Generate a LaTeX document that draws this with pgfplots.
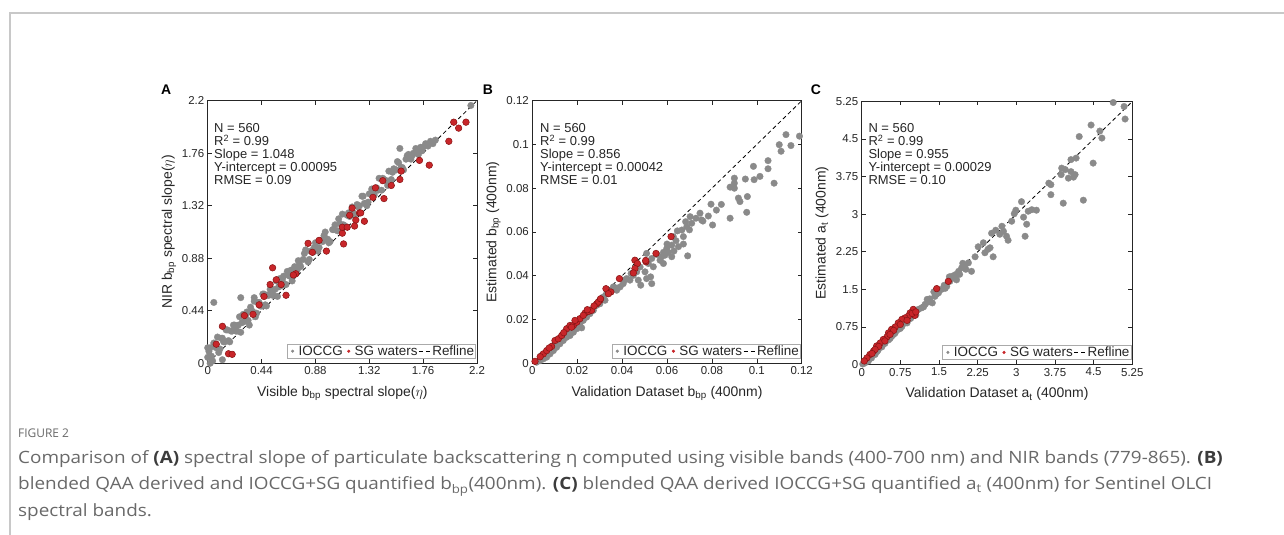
\documentclass[border=0pt]{standalone}
\usepackage{fontspec}
\setmainfont{Liberation Sans}
\newfontfamily\capfont{Open Sans}
\usepackage{pgfplots}
\pgfplotsset{compat=1.18}
\definecolor{gcol}{RGB}{138,138,138}
\definecolor{rcol}{RGB}{200,38,42}
\definecolor{redge}{RGB}{135,20,20}
\definecolor{axcol}{RGB}{38,38,38}
\definecolor{framecol}{RGB}{200,200,200}
\definecolor{captxt}{RGB}{105,105,105}
\definecolor{capbold}{RGB}{60,60,60}
\definecolor{legcol}{RGB}{170,170,170}
\pgfplotsset{
 panel/.style={scale only axis, axis line style={axcol, line width=0.6bp},
  tick style={axcol, line width=0.6bp}, tick align=inside, major tick length=4bp,
  xtick pos=both, ytick pos=both,
  ticklabel style={font=\fontsize{11.5}{12}\selectfont, text=axcol},
  label style={font=\fontsize{14}{15}\selectfont, text=axcol},
  xlabel style={at={(axis description cs:0.5,-0.127)}, anchor=base},
  ylabel style={at={(axis description cs:-0.133,0.5)}, anchor=base},
  legend columns=3, legend cell align=left,
  legend style={at={(0.996,0.018)}, anchor=south east, draw=legcol, line width=0.5bp, fill=white,
    font=\fontsize{13.5}{14}\selectfont, inner sep=0.5bp, nodes={inner sep=1bp, text=axcol},
    /tikz/every odd column/.append style={column sep=1bp}},
 },
 gpts/.style={only marks, mark=*, mark size=3.3bp, mark options={fill=gcol, draw=gcol, line width=0.3bp},
   legend image code/.code={\path[draw=none,fill=none] (0bp,-2bp) rectangle (9bp,2bp); \fill[gcol] (5bp,0bp) circle (1.3bp);}},
 rpts/.style={only marks, mark=*, mark size=3.3bp, mark options={fill=rcol, draw=redge, line width=0.5bp},
   legend image code/.code={\path[draw=none,fill=none] (0bp,-2bp) rectangle (9bp,2bp); \fill[rcol] (5bp,0bp) circle (1.3bp);}},
 refl/.style={black, line width=0.8bp, dash pattern=on 4bp off 3bp,
   legend image code/.code={\draw[black, line width=0.8bp, dash pattern=on 4bp off 3bp] (0bp,0bp) -- (11bp,0bp);}},
}
\begin{document}
\begin{tikzpicture}
\useasboundingbox (0,0) rectangle (1284bp,535bp);
\fill[white] (0,0) rectangle (1284bp,535bp);
\draw[framecol, line width=1.3bp] (10bp,0bp) -- (10bp,522bp) -- (1284bp,522bp);

% ---------------- Panel A
\begin{axis}[panel, at={(207.7bp,171.7bp)}, anchor=south west, width=269.3bp, height=262.6bp,
  xmin=0, xmax=2.2, ymin=0, ymax=2.2,
  xtick={0,0.44,0.88,1.32,1.76,2.2}, xticklabels={0,0.44,0.88,1.32,1.76,2.2},
  ytick={0,0.44,0.88,1.32,1.76,2.2}, yticklabels={0,0.44,0.88,1.32,1.76,2.2},
  xlabel={Visible b\textsubscript{bp} spectral slope($\eta$)},
  ylabel={NIR b\textsubscript{bp} spectral slope($\eta$)}]
\addplot[gpts] coordinates {
(0.00,0.05) (0.02,0.13) (0.04,0.02) (0.06,0.14) (0.08,0.22) (0.10,0.12) (0.12,0.21) (0.14,0.18) (0.16,0.28) (0.18,0.18)
(0.20,0.27) (0.22,0.32) (0.24,0.27) (0.26,0.39) (0.28,0.34) (0.30,0.35) (0.32,0.43) (0.34,0.32) (0.36,0.44) (0.38,0.52)
(0.40,0.42) (0.42,0.51) (0.44,0.48) (0.46,0.58) (0.48,0.48) (0.50,0.57) (0.52,0.62) (0.54,0.57) (0.56,0.69) (0.58,0.64)
(0.60,0.65) (0.62,0.73) (0.64,0.66) (0.66,0.74) (0.68,0.78) (0.70,0.74) (0.72,0.79)
(0.01,0.10) (0.03,0.06) (0.05,0.17) (0.07,0.13) (0.09,0.09) (0.11,0.21) (0.13,0.18) (0.15,0.28) (0.17,0.19) (0.19,0.27)
(0.21,0.32) (0.23,0.27) (0.25,0.32) (0.27,0.26) (0.29,0.41) (0.31,0.40) (0.33,0.36) (0.35,0.47) (0.37,0.43) (0.39,0.39)
(0.41,0.51) (0.43,0.48) (0.45,0.58) (0.47,0.49) (0.49,0.57) (0.51,0.62) (0.53,0.57) (0.55,0.62) (0.57,0.56) (0.59,0.71)
(0.61,0.70) (0.63,0.66) (0.65,0.77) (0.67,0.73) (0.69,0.69) (0.71,0.81) (0.73,0.78)
(0.05,0.51) (0.00,0.13) (0.27,0.55) (0.38,0.55) (0.12,0.03) (0.02,0.00)
(0.74,0.86) (0.76,0.81) (0.78,0.87) (0.80,0.95) (0.82,0.85) (0.84,0.94) (0.86,0.93) (0.88,1.01) (0.90,0.94) (0.92,1.03)
(0.94,1.02) (0.96,1.10) (0.98,1.04) (1.00,1.02) (1.02,1.12) (1.04,1.16) (1.06,1.11) (1.08,1.17) (1.10,1.25) (1.12,1.15)
(1.14,1.24) (1.16,1.23) (1.18,1.31) (1.20,1.24) (1.22,1.33) (1.24,1.32) (1.26,1.40) (1.28,1.34) (1.30,1.32) (1.32,1.42)
(1.34,1.46) (1.36,1.41) (1.38,1.47) (1.40,1.55) (1.42,1.45) (1.44,1.54) (1.46,1.53) (1.48,1.61) (1.50,1.54) (1.52,1.63)
(1.54,1.62) (1.56,1.68) (1.58,1.64) (1.60,1.62) (1.62,1.71) (1.64,1.75) (1.66,1.71) (1.68,1.76) (1.70,1.80) (1.72,1.75)
(1.74,1.81) (1.76,1.81) (1.78,1.84) (1.80,1.82) (1.82,1.86) (1.84,1.84) (1.86,1.87)
(0.75,0.83) (0.79,0.92) (0.83,0.87) (0.87,0.97) (0.91,0.97) (0.95,1.07) (0.99,1.01) (1.03,1.12) (1.07,1.21) (1.11,1.16)
(1.15,1.26) (1.19,1.26) (1.23,1.31) (1.27,1.40) (1.31,1.35) (1.35,1.45) (1.39,1.45) (1.43,1.55) (1.47,1.49) (1.51,1.60)
(1.55,1.69) (1.59,1.64) (1.63,1.74) (1.67,1.74) (1.71,1.79) (1.75,1.78) (1.79,1.83) (1.83,1.85)
(1.57,1.80) (2.15,2.16)
};
\addlegendentry{IOCCG}
\addplot[rpts] coordinates {
(0.07,0.16) (0.12,0.31) (0.17,0.08) (0.20,0.075) (0.30,0.40) (0.37,0.41) (0.42,0.49) (0.46,0.56) (0.53,0.80) (0.51,0.66)
(0.56,0.70) (0.60,0.66) (0.64,0.57) (0.72,0.75) (0.70,0.74) (0.82,1.005) (0.855,0.93) (0.97,0.94) (0.91,1.03) (1.11,1.00)
(1.10,1.09) (1.21,1.20) (1.10,1.14) (1.14,1.14) (1.16,1.24) (1.18,1.30) (1.24,1.26) (1.35,1.39) (1.44,1.38) (1.37,1.47)
(1.43,1.53) (1.50,1.49) (1.57,1.54) (1.58,1.61) (1.73,1.70) (1.81,1.66) (1.97,1.86) (2.01,2.02) (2.05,1.97) (2.11,2.02)
(1.20,1.15) (1.28,1.19) (1.25,1.26)
};
\addlegendentry{SG waters}
\addplot[refl] coordinates {(0,0) (2.2,2.2)};
\addlegendentry{Refline}
\end{axis}

% ---------------- Panel B
\begin{axis}[panel, at={(532.3bp,171.7bp)}, anchor=south west, width=269.4bp, height=262.6bp,
  xmin=0, xmax=0.12, ymin=0, ymax=0.12,
  xtick={0,0.02,0.04,0.06,0.08,0.1,0.12}, xticklabels={0,0.02,0.04,0.06,0.08,0.1,0.12},
  ytick={0,0.02,0.04,0.06,0.08,0.1,0.12}, yticklabels={0,0.02,0.04,0.06,0.08,0.1,0.12},
  xlabel={Validation Dataset b\textsubscript{bp} (400nm)},
  ylabel={Estimated b\textsubscript{bp} (400nm)}]
\addplot[gpts] coordinates {
(0.113,0.1045) (0.119,0.1038) (0.110,0.0999) (0.1108,0.0969) (0.1152,0.0995) (0.105,0.0926) (0.105,0.0889) (0.0985,0.090)
(0.1014,0.0854) (0.0988,0.0839) (0.0949,0.0842) (0.1077,0.0823) (0.090,0.0846) (0.090,0.0823) (0.090,0.080) (0.0881,0.0805)
(0.0918,0.0755) (0.0925,0.0739) (0.0958,0.0762) (0.0955,0.069) (0.0881,0.0663) (0.0842,0.0726) (0.0796,0.0727) (0.0784,0.0673)
(0.0803,0.0632) (0.0747,0.0686) (0.0754,0.0655) (0.0729,0.0663) (0.0703,0.067) (0.071,0.064) (0.0683,0.0647) (0.0666,0.0609)
(0.0688,0.0624) (0.0646,0.0605) (0.0673,0.0579) (0.0628,0.0579) (0.0621,0.054) (0.0673,0.0545) (0.0692,0.0491) (0.0599,0.0525)
(0.0591,0.0494) (0.0621,0.0487) (0.0606,0.0507) (0.0631,0.0513) (0.0651,0.0533) (0.0569,0.0471) (0.0576,0.0487) (0.0584,0.0456)
(0.0509,0.0502) (0.0532,0.0479) (0.0539,0.0441) (0.0517,0.0456) (0.0502,0.0418) (0.0527,0.0395) (0.0532,0.0364) (0.0509,0.0387)
(0.0472,0.038) (0.0483,0.0357) (0.045,0.0402) (0.0465,0.0418) (0.0435,0.038) (0.0405,0.0364) (0.042,0.0387) (0.0391,0.0349)
(0.0376,0.0334) (0.0361,0.0349) (0.0346,0.0326) (0.0331,0.0318) (0.0316,0.0303) (0.0324,0.0288) (0.0301,0.0272) (0.0287,0.0265)
(0.0272,0.0242) (0.0257,0.0227) (0.0242,0.0211) (0.0227,0.0196) (0.0212,0.0181) (0.022,0.0162) (0.0198,0.0158) (0.0183,0.0142)
(0.0168,0.0127) (0.0153,0.0119) (0.0138,0.0104) (0.0123,0.0089) (0.0108,0.0073) (0.0094,0.0058) (0.0079,0.0043) (0.0064,0.0028)
(0.0049,0.002) (0.0034,0.0012) (0.0019,0.0005) (0.0584,0.0507) (0.0555,0.0497) (0.0480,0.0440) (0.0440,0.0410) (0.0410,0.0380)
(0.0370,0.0345) (0.0300,0.0285) (0.0260,0.0240) (0.0230,0.0210) (0.0195,0.0175) (0.0160,0.0140) (0.0130,0.0115) (0.0100,0.0088)
(0.0070,0.0060) (0.0040,0.0035) (0.0600,0.0545) (0.0640,0.0560) (0.0700,0.0610) (0.0760,0.0650) (0.0820,0.0700)
};
\addlegendentry{IOCCG}
\addplot[rpts] coordinates {
(0.0012,0.0009) (0.0049,0.0043) (0.0064,0.0058) (0.0086,0.0077) (0.0101,0.0104) (0.0116,0.0112) (0.0131,0.0127) (0.0153,0.0158)
(0.0168,0.0173) (0.0183,0.0173) (0.0198,0.0188) (0.0212,0.0204) (0.0235,0.023) (0.025,0.0237) (0.0264,0.0242) (0.0227,0.0219)
(0.019,0.0196) (0.0287,0.0272) (0.0301,0.0288) (0.0294,0.028) (0.0304,0.0295) (0.0328,0.0341) (0.0388,0.0387) (0.0457,0.0471)
(0.0468,0.0456) (0.0457,0.0433) (0.045,0.0413) (0.0506,0.0464) (0.0551,0.0502) (0.0618,0.0579) (0.035,0.0326) (0.0339,0.0318)
(0.0035,0.0030) (0.0075,0.0070) (0.0140,0.0140) (0.0175,0.0165) (0.0245,0.0245) (0.0275,0.0262) (0.0505,0.0470)
};
\addlegendentry{SG waters}
\addplot[refl] coordinates {(0,0) (0.12,0.12)};
\addlegendentry{Refline}
\end{axis}

% ---------------- Panel C
\begin{axis}[panel, at={(861.7bp,170.5bp)}, anchor=south west, width=270.6bp, height=263bp,
  xmin=0, xmax=5.25, ymin=0, ymax=5.25,
  xtick={0,0.75,1.5,2.25,3,3.75,4.5,5.25}, xticklabels={0,0.75,1.5,2.25,3,3.75,4.5,5.25},
  ytick={0,0.75,1.5,2.25,3,3.75,4.5,5.25}, yticklabels={0,0.75,1.5,2.25,3,3.75,4.5,5.25},
  xlabel={Validation Dataset a\textsubscript{t} (400nm)},
  ylabel={Estimated a\textsubscript{t} (400nm)}]
\addplot[gpts] coordinates {
(4.88,5.23) (5.09,5.15) (5.11,4.90) (4.45,4.78) (4.66,4.52) (4.22,4.55) (4.49,4.02) (4.06,4.09) (3.88,3.92) (3.87,3.79)
(3.95,3.89) (4.06,3.85) (4.01,3.72) (4.14,3.79) (4.11,3.74) (3.91,3.22) (4.30,3.28) (3.67,3.59) (3.67,3.39) (3.23,3.06)
(3.39,3.08) (3.30,3.09) (2.99,3.08) (2.96,3.01) (3.14,2.94) (3.20,2.80) (3.17,2.56) (2.91,2.86) (2.72,2.76) (2.75,2.66)
(2.81,2.56) (2.84,2.48) (2.52,2.62) (2.49,2.33) (2.39,2.23) (2.36,2.43) (2.26,2.35) (2.13,1.86) (2.07,2.03) (1.94,1.93)
(1.88,1.86) (1.81,1.79) (1.78,1.73) (1.84,1.69) (1.71,1.66) (1.65,1.56) (1.55,1.50) (1.49,1.43) (1.42,1.36) (1.37,1.23)
(1.32,1.31) (1.23,1.20) (1.16,1.13) (1.10,1.10) (1.03,1.03) (0.97,0.96) (0.91,0.90) (0.84,0.83) (0.78,0.76) (0.71,0.70)
(0.65,0.63) (0.58,0.56) (0.52,0.49) (0.45,0.42) (0.39,0.35) (0.32,0.29) (0.26,0.20) (0.19,0.13) (0.13,0.07) (0.06,0.03)
(2.00,1.98) (1.96,2.02) (2.02,1.90) (1.90,1.80) (1.75,1.76) (1.60,1.58) (1.45,1.40) (1.30,1.25) (1.20,1.15) (1.05,0.99)
(0.95,0.92) (0.88,0.83) (0.75,0.72) (0.62,0.60) (0.55,0.52) (0.40,0.38) (0.30,0.26) (0.15,0.12) (0.08,0.06) (0.02,0.01)
(2.60,2.68) (2.68,2.60) (2.55,2.15) (2.45,2.30) (2.20,2.15) (1.70,1.75) (1.62,1.52) (1.40,1.45) (1.27,1.30) (3.10,3.25)
(3.63,3.62) (4.16,4.12) (4.62,4.66)
};
\addlegendentry{IOCCG}
\addplot[rpts] coordinates {
(1.455,1.515) (1.68,1.66) (1.00,1.10) (0.94,1.03) (1.03,0.98) (0.905,0.965) (0.84,0.93) (0.78,0.90) (0.71,0.83) (0.65,0.75)
(0.58,0.70) (0.52,0.63) (0.49,0.55) (0.42,0.50) (0.36,0.43) (0.29,0.37) (0.23,0.27) (0.16,0.20) (0.10,0.13) (0.05,0.07)
(0.98,1.02) (0.88,0.88) (0.75,0.80) (0.62,0.68) (0.55,0.60) (0.45,0.47) (0.33,0.36) (0.26,0.30) (0.20,0.22) (1.05,1.05)
};
\addlegendentry{SG waters}
\addplot[refl] coordinates {(0,0) (5.25,5.25)};
\addlegendentry{Refline}
\end{axis}

% panel letters
\node[anchor=base west, font=\fontsize{14}{14}\selectfont\bfseries, inner sep=0pt] at (161bp,440.7bp) {A};
\node[anchor=base west, font=\fontsize{14}{14}\selectfont\bfseries, inner sep=0pt] at (482.7bp,440.7bp) {B};
\node[anchor=base west, font=\fontsize{14}{14}\selectfont\bfseries, inner sep=0pt] at (810.7bp,440.7bp) {C};

% statistics
\foreach \xx/\sl/\yi/\rm in {214/1.048/0.00095/0.09, 540/0.856/0.00042/0.01, 868.3/0.955/0.00029/0.10}{
  \begin{scope}[every node/.style={anchor=base west, inner sep=0pt, text=axcol, font=\fontsize{13}{13}\selectfont}]
  \node at (\xx bp,402.3bp) {N = 560};
  \node at (\xx bp,389.4bp) {R\textsuperscript{2} = 0.99};
  \node at (\xx bp,376.5bp) {Slope = \sl};
  \node at (\xx bp,363.6bp) {Y-intercept = \yi};
  \node at (\xx bp,350.7bp) {RMSE = \rm};
  \end{scope}
}

% caption
\begin{scope}[every node/.style={anchor=base west, inner sep=0pt, text=captxt}]
\node[font=\capfont\fontsize{12}{12}\selectfont] at (18bp,97bp) {FIGURE 2};
\node[font=\capfont\fontsize{17}{17}\selectfont] at (18bp,71bp) {\scalebox{1.116}[1]{Comparison of \textcolor{capbold}{\textbf{(A)}} spectral slope of particulate backscattering η computed using visible bands (400-700 nm) and NIR bands (779-865). \textcolor{capbold}{\textbf{(B)}}}};
\node[font=\capfont\fontsize{17}{17}\selectfont] at (18bp,45bp) {\scalebox{1.116}[1]{blended QAA derived and IOCCG+SG quantified b\textsubscript{bp}(400nm). \textcolor{capbold}{\textbf{(C)}} blended QAA derived IOCCG+SG quantified a\textsubscript{t} (400nm) for Sentinel OLCI}};
\node[font=\capfont\fontsize{17}{17}\selectfont] at (18bp,19bp) {\scalebox{1.116}[1]{spectral bands.}};
\end{scope}
\end{tikzpicture}
\end{document}
